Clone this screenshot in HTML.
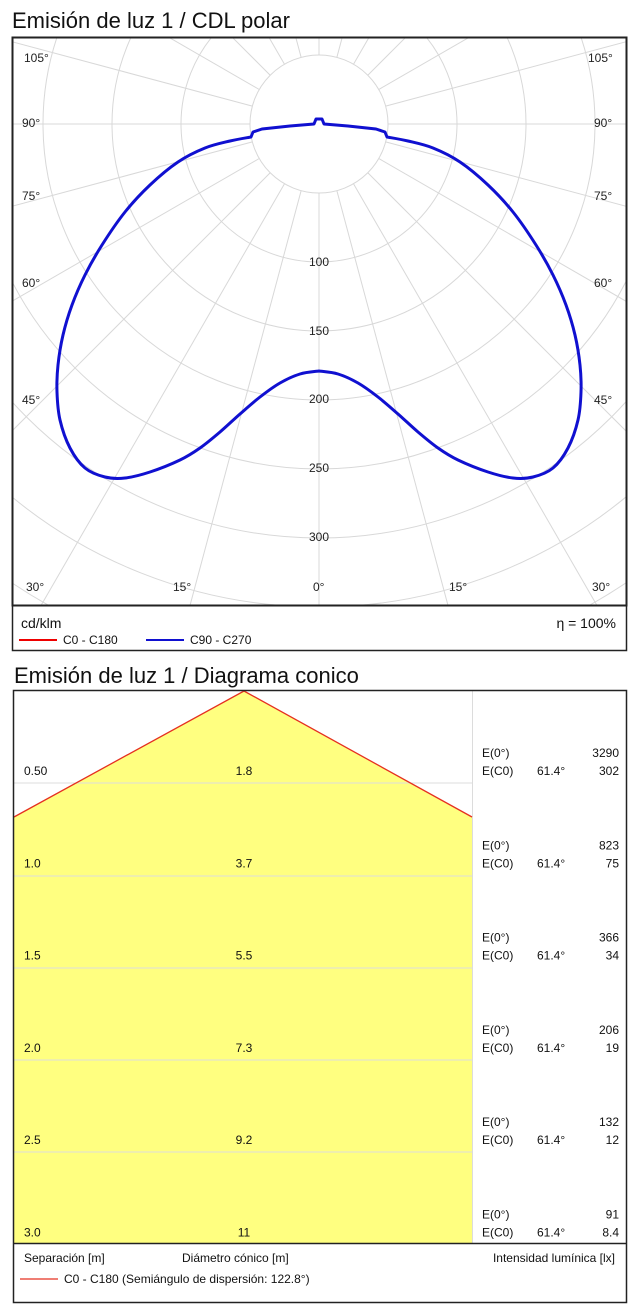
<!DOCTYPE html>
<html><head><meta charset="utf-8"><style>
html,body{margin:0;padding:0;background:#fff;}
svg{display:block;font-family:"Liberation Sans",Arial,sans-serif;}
</style></head><body>
<svg id="s" width="640" height="1315" viewBox="0 0 640 1315" xmlns="http://www.w3.org/2000/svg">
<text x="12" y="28" font-size="22" fill="#111">Emisión de luz 1 / CDL polar</text>
<defs><clipPath id="pc"><rect x="13" y="38" width="613" height="567"/></clipPath></defs>
<g id="grid" clip-path="url(#pc)" stroke="#d8d8d8" stroke-width="1" fill="none"></g>
<g font-size="12" fill="#222">
<text x="24" y="62">105°</text><text x="588" y="62">105°</text>
<text x="22" y="127">90°</text><text x="594" y="127">90°</text>
<text x="22" y="200">75°</text><text x="594" y="200">75°</text>
<text x="22" y="287">60°</text><text x="594" y="287">60°</text>
<text x="22" y="404">45°</text><text x="594" y="404">45°</text>
<text x="26" y="591">30°</text><text x="592" y="591">30°</text>
<text x="173" y="591">15°</text><text x="313" y="591">0°</text><text x="449" y="591">15°</text>
<g text-anchor="middle"><text x="319" y="266">100</text><text x="319" y="335">150</text><text x="319" y="403">200</text><text x="319" y="472">250</text><text x="319" y="541">300</text></g>
</g>
<path id="curve" fill="none" stroke="#1010d0" stroke-width="3" stroke-linejoin="round"/>
<rect x="12.5" y="37.5" width="614" height="568" fill="none" stroke="#222" stroke-width="2"/>
<rect x="12.5" y="605.5" width="614" height="45" fill="none" stroke="#222" stroke-width="1.5"/>
<text x="21" y="628" font-size="14" fill="#111">cd/klm</text>
<text x="616" y="628" font-size="14" fill="#111" text-anchor="end">η = 100%</text>
<line x1="19" y1="640" x2="57" y2="640" stroke="#e00" stroke-width="2"/>
<text x="63" y="644" font-size="12" fill="#111">C0 - C180</text>
<line x1="146" y1="640" x2="184" y2="640" stroke="#1010d0" stroke-width="2"/>
<text x="190" y="644" font-size="12" fill="#111">C90 - C270</text>

<text x="14" y="683" font-size="22" fill="#111">Emisión de luz 1 / Diagrama conico</text>
<polygon points="244,691 472,817 472,1243 14,1243 14,817" fill="#ffff80"/>
<g stroke="#dcdcdc" stroke-width="1">
<line x1="14" y1="783" x2="472" y2="783"/><line x1="14" y1="876" x2="472" y2="876"/>
<line x1="14" y1="968" x2="472" y2="968"/><line x1="14" y1="1060" x2="472" y2="1060"/>
<line x1="14" y1="1152" x2="472" y2="1152"/><line x1="472.5" y1="691" x2="472.5" y2="1243"/>
</g>
<polyline points="14,817 244,691 472,817" fill="none" stroke="#e53020" stroke-width="1.3"/>
<rect x="13.5" y="690.5" width="613" height="612" fill="none" stroke="#222" stroke-width="1.5"/>
<line x1="13" y1="1243.5" x2="627" y2="1243.5" stroke="#222" stroke-width="1.5"/>
<g id="rows" font-size="12" fill="#111"></g>
<g font-size="12" fill="#111">
<text x="24" y="1262">Separación [m]</text>
<text x="182" y="1262">Diámetro cónico [m]</text>
<text x="615" y="1262" text-anchor="end">Intensidad lumínica [lx]</text>
<line x1="20" y1="1279" x2="58" y2="1279" stroke="#e53020" stroke-width="1.3"/>
<text x="64" y="1283">C0 - C180 (Semiángulo de dispersión: 122.8°)</text>
</g>
</svg>
<script>
var NS="http://www.w3.org/2000/svg",g=document.getElementById("grid"),cx=319,cy=124,k=69;
function el(t,a,p){var e=document.createElementNS(NS,t);for(var i in a)e.setAttribute(i,a[i]);p.appendChild(e);return e;}
for(var i=1;i<=12;i++)el("circle",{cx:cx,cy:cy,r:k*i},g);
for(var a=0;a<360;a+=15){var r=a*Math.PI/180;el("line",{x1:cx+k*Math.sin(r),y1:cy+k*Math.cos(r),x2:cx+900*Math.sin(r),y2:cy+900*Math.cos(r)},g);}
var M=[[319,371],[300,374],[280,383],[260,397],[240,414],[220,432],[200,448],[180,460],[150,472],[125,478],[105,477],[85,468],[70,448],[60,420],[57,392],[58,365],[63,335],[72,305],[85,275],[102,245],[125,212],[150,185],[178,162],[205,148],[230,141],[251,137]];
function cr(P){var s="M"+P[0].join(",");for(var i=0;i<P.length-1;i++){var p0=P[Math.max(i-1,0)],p1=P[i],p2=P[i+1],p3=P[Math.min(i+2,P.length-1)];
s+=" C"+(p1[0]+(p2[0]-p0[0])/6)+","+(p1[1]+(p2[1]-p0[1])/6)+" "+(p2[0]-(p3[0]-p1[0])/6)+","+(p2[1]-(p3[1]-p1[1])/6)+" "+p2[0]+","+p2[1];}return s;}
var left=cr(M)+" L253,132 L262,129 L290,126 L314,124 L316,119 L322,119";
var MR=M.map(function(p){return [638-p[0],p[1]];}).reverse();
var right=" L324,124 L348,126 L376,129 L385,132 L"+MR[0].join(",")+cr(MR).slice(cr(MR).indexOf(" C"));
document.getElementById("curve").setAttribute("d",left+right+" Z");
var rows=document.getElementById("rows");
var d=[["0.50","1.8","3290","302"],["1.0","3.7","823","75"],["1.5","5.5","366","34"],["2.0","7.3","206","19"],["2.5","9.2","132","12"],["3.0","11","91","8.4"]];
for(var i=0;i<6;i++){var y=775+i*92.3;
el("text",{x:24,y:y},rows).textContent=d[i][0];
el("text",{x:244,y:y,"text-anchor":"middle"},rows).textContent=d[i][1];
el("text",{x:482,y:y-18},rows).textContent="E(0°)";
el("text",{x:619,y:y-18,"text-anchor":"end"},rows).textContent=d[i][2];
el("text",{x:482,y:y},rows).textContent="E(C0)";
el("text",{x:537,y:y},rows).textContent="61.4°";
el("text",{x:619,y:y,"text-anchor":"end"},rows).textContent=d[i][3];}
</script>
</body></html>
